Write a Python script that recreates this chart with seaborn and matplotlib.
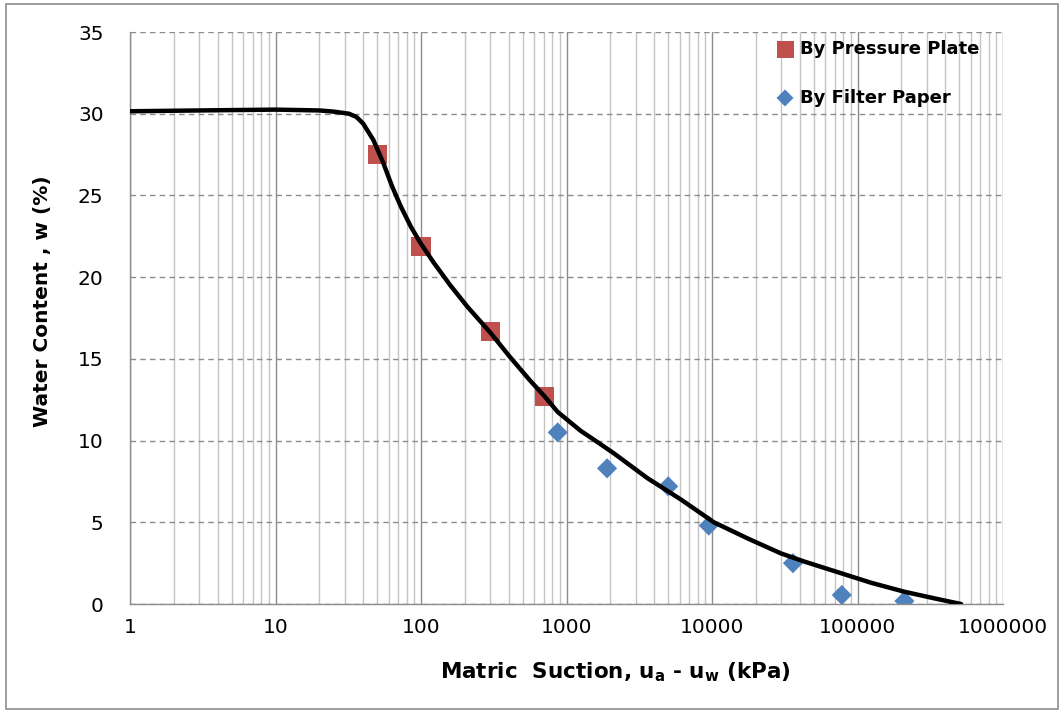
"""
Soil-water characteristic curve: water content against matric suction,
with pressure plate and filter paper measurements.
"""

import matplotlib
matplotlib.use("Agg")
import matplotlib.pyplot as plt
import matplotlib.ticker as mticker
from matplotlib.patches import Rectangle
import pandas as pd
import seaborn as sns

# Measured points
PLATE_SUCTION = [50, 100, 300, 710]
PLATE_W = [27.5, 21.9, 16.7, 12.7]

PAPER_SUCTION = [870, 1900, 5000, 9500, 36000, 78000, 210000]
PAPER_W = [10.5, 8.3, 7.2, 4.8, 2.5, 0.55, 0.18]

# Fitted curve
FIT_SUCTION = [1, 3, 10, 20, 25, 32, 36, 40, 47, 55, 63, 72, 85, 99, 122,
               159, 208, 300, 410, 565, 700, 870, 1250, 1700, 2130, 3600,
               6100, 10300, 17700, 29700, 43000, 73000, 124000, 210000,
               356000, 515000]
FIT_W = [30.15, 30.2, 30.25, 30.2, 30.13, 30.0, 29.8, 29.4, 28.4, 27.0, 25.6,
         24.4, 23.1, 22.1, 20.9, 19.5, 18.2, 16.6, 15.1, 13.65, 12.75, 11.75,
         10.6, 9.8, 9.2, 7.7, 6.4, 5.0, 4.0, 3.1, 2.6, 1.95, 1.3, 0.75,
         0.3, 0.0]

TICK_LABELS = ["1", "10", "100", "1000", "10000", "100000", "1000000"]

RED = "#C0504D"
BLUE = "#4F81BD"

sns.set_theme(style="white")
plt.rcParams["font.family"] = ["DejaVu Sans"]
plt.rcParams["text.color"] = "black"
plt.rcParams["axes.labelcolor"] = "black"


def main():
    fig = plt.figure(figsize=(10.63, 7.12), dpi=100)
    ax = fig.add_axes([130 / 1063, 108 / 712, 873 / 1063, 572 / 712])

    fit = pd.DataFrame({"suction": FIT_SUCTION, "w": FIT_W})
    plate = pd.DataFrame({"suction": PLATE_SUCTION, "w": PLATE_W})
    paper = pd.DataFrame({"suction": PAPER_SUCTION, "w": PAPER_W})

    sns.lineplot(data=fit, x="suction", y="w", color="black", linewidth=3.2,
                 ax=ax, zorder=3, solid_joinstyle="round",
                 solid_capstyle="round")
    sns.scatterplot(data=plate, x="suction", y="w", marker="s", s=190,
                    color=RED, edgecolor="none", label="By Pressure Plate",
                    ax=ax, zorder=2)
    sns.scatterplot(data=paper, x="suction", y="w", marker="D", s=105,
                    color=BLUE, edgecolor="none", label="By Filter Paper",
                    ax=ax, zorder=2)

    ax.set_xscale("log")
    ax.set_xlim(1, 1e6)
    ax.set_ylim(0, 35)
    ax.set_yticks(range(0, 36, 5))
    ax.set_xticks([float(t) for t in TICK_LABELS])
    ax.set_xticklabels(TICK_LABELS)
    ax.xaxis.set_minor_locator(mticker.LogLocator(base=10, subs=range(2, 10), numticks=20))
    ax.xaxis.set_minor_formatter(mticker.NullFormatter())

    # gridlines: solid vertical, dashed horizontal
    ax.grid(True, which="major", axis="x", color="#8c8c8c", linewidth=1.0)
    ax.grid(True, which="minor", axis="x", color="#c4c4c4", linewidth=1.0)
    ax.grid(True, which="major", axis="y", color="#8c8c8c", linewidth=1.0,
            linestyle=(0, (4, 3)))
    ax.set_axisbelow(True)

    for side in ["top", "right"]:
        ax.spines[side].set_visible(False)
    for side in ["left", "bottom"]:
        ax.spines[side].set_color("#8c8c8c")
        ax.spines[side].set_linewidth(1.0)

    ax.tick_params(axis="both", which="both", length=0, labelsize=14.5,
                   labelcolor="black")
    ax.tick_params(axis="x", pad=10)
    ax.tick_params(axis="y", pad=19)

    ax.set_xlabel(r"Matric  Suction, u$_\mathregular{a}$ - u$_\mathregular{w}$ (kPa)",
                  fontsize=15.5, fontweight="bold")
    ax.xaxis.set_label_coords(0.556, -0.098)
    ax.set_ylabel("Water Content , w (%)", fontsize=14.5, fontweight="bold")
    ax.yaxis.set_label_coords(-0.089, 0.53)

    leg = ax.legend(loc="upper left", bbox_to_anchor=(776 / 1063, 1 - 40 / 712),
                    bbox_transform=fig.transFigure, frameon=False, fontsize=13,
                    handlelength=1.0, handletextpad=0.33, labelspacing=1.7,
                    borderaxespad=0, borderpad=0)
    for text in leg.get_texts():
        text.set_fontweight("bold")
    leg.legend_handles[0].set_sizes([150])
    leg.legend_handles[1].set_sizes([75])

    # outer chart border
    fig.patches.append(Rectangle((6 / 1063, 3 / 712), 1052 / 1063, 705 / 712,
                                 transform=fig.transFigure, fill=False,
                                 edgecolor="#8c8c8c", linewidth=1.2))

    fig.savefig("out.png", dpi=100)
    plt.close(fig)


if __name__ == "__main__":
    main()
